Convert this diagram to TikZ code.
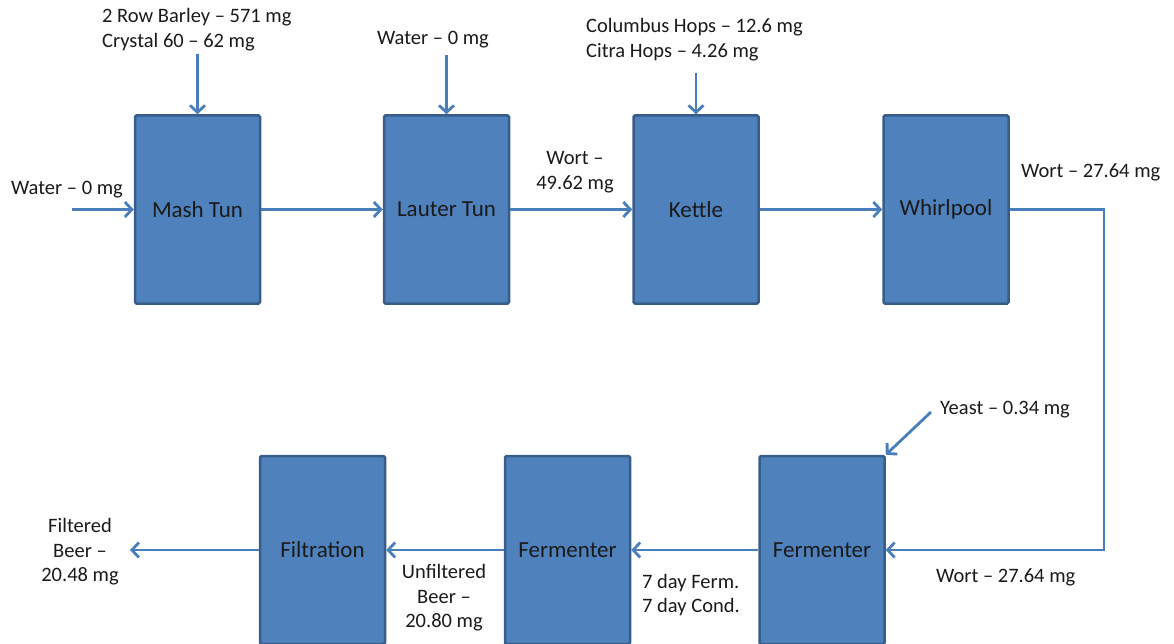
\documentclass[tikz,border=0pt]{standalone}
\usepackage{fontspec}
\setmainfont{Carlito}
\usetikzlibrary{arrows.meta}
\definecolor{boxfill}{HTML}{4F81BD}
\definecolor{boxline}{HTML}{385D8A}
\definecolor{flow}{HTML}{4A7EBB}
\definecolor{ink}{HTML}{1A1A1A}
\begin{document}
\begin{tikzpicture}[x=1pt,y=1pt,
  unit/.style={draw=boxline, fill=boxfill, line width=2.5pt, rounded corners=1.5pt,
    minimum width=125pt, minimum height=188pt, inner sep=0pt,
    font=\fontsize{23}{27}\selectfont, text=ink},
  lbl/.style={font=\fontsize{20.5}{24.5}\selectfont, align=center, text=ink, inner sep=0pt},
  lbll/.style={lbl, align=left, anchor=west},
  flowarrow/.style={draw=flow, line width=2.8pt,
    -{Straight Barb[length=7pt,width=15pt,line width=2.8pt]}}]
\useasboundingbox (0,0) rectangle (1174,-644);
% process units
\node[unit] (mash)   at (197.5,-209.5) {Mash Tun};
\node[unit] (lauter) at (446.5,-209.5) {Lauter Tun};
\node[unit] (kettle) at (696,-209.5)   {Kettle};
\node[unit] (whirl)  at (946,-209.5)   {Whirlpool};
\node[unit] (ferm1)  at (822,-550)     {Fermenter};
\node[unit] (ferm2)  at (567.5,-550)   {Fermenter};
\node[unit] (filt)   at (322.5,-550)   {Filtration};
% labels
\node[lbl]  (water1) at (67,-190)    {Water – 0 mg};
\node[lbll] (barley) at (102,-29.5)  {2 Row Barley – 571 mg\\Crystal 60 – 62 mg};
\node[lbl]  (water2) at (433,-40)    {Water – 0 mg};
\node[lbll] (hops)   at (586,-39.5)  {Columbus Hops – 12.6 mg\\Citra Hops – 4.26 mg};
\node[lbl]  (wort1)  at (575,-172)   {Wort –\\49.62 mg};
\node[lbll] (wort2)  at (1021,-172)  {Wort – 27.64 mg};
\node[lbll] (yeast)  at (940,-410)   {Yeast – 0.34 mg};
\node[lbll] (wort3)  at (936,-577)   {Wort – 27.64 mg};
\node[lbll] (cond)   at (642,-595)   {7 day Ferm.\\7 day Cond.};
\node[lbl]  (unfilt) at (444,-598)   {Unfiltered\\Beer –\\20.80 mg};
\node[lbl]  (filtb)  at (80,-552)    {Filtered\\Beer –\\20.48 mg};
% free ends
\coordinate (wIn)    at (72,-209.5);
\coordinate (bIn)    at (197.5,-54);
\coordinate (w2In)   at (446.5,-55);
\coordinate (hIn)    at (696,-73);
\coordinate (turn)   at (1104,-209.5);
\coordinate (yIn)    at (931,-412);
\coordinate (out)    at (130,-550);
% connectors
\draw[flowarrow] (wIn) -- (mash.west);
\draw[flowarrow] (bIn) -- (mash.north);
\draw[flowarrow] (mash.east) -- (lauter.west);
\draw[flowarrow] (w2In) -- (lauter.north);
\draw[flowarrow] (lauter.east) -- (kettle.west);
\draw[flowarrow] (hIn) -- (kettle.north);
\draw[flowarrow] (kettle.east) -- (whirl.west);
\draw[flowarrow] (whirl.east) -- (turn) |- (ferm1.east);
\draw[flowarrow] (yIn) -- (ferm1.north east);
\draw[flowarrow] (ferm1.west) -- (ferm2.east);
\draw[flowarrow] (ferm2.west) -- (filt.east);
\draw[flowarrow] (filt.west) -- (out);
\end{tikzpicture}
\end{document}
